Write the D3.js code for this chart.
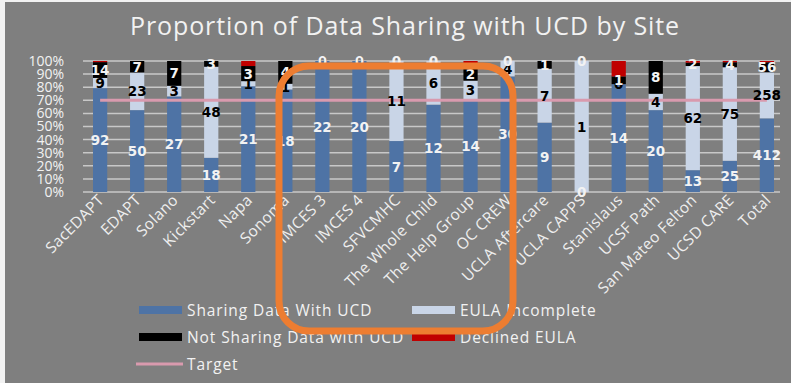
<!DOCTYPE html>
<html>
<head>
<meta charset="utf-8">
<script src="https://cdn.jsdelivr.net/npm/d3@7"></script>
<style>
  html, body { margin: 0; padding: 0; background: #ffffff; }
  svg { display: block; }
  text { font-family: "Open Sans", sans-serif; }
</style>
</head>
<body>
<svg id="chart" width="791" height="383"></svg>
<script>
const categories = ["SacEDAPT","EDAPT","Solano","Kickstart","Napa","Sonoma","IMCES 3","IMCES 4","SFVCMHC","The Whole Child","The Help Group","OC CREW","UCLA Aftercare","UCLA CAPPS","Stanislaus","UCSF Path","San Mateo Felton","UCSD CARE","Total"];
const sharing     = [92,50,27,18,21,18,22,20,7,12,14,30,9,0,14,20,13,25,412];
const eulaIncomplete = [9,23,3,48,1,1,0,0,11,6,3,4,7,1,0,4,62,75,258];
const notSharing  = [14,7,7,3,3,4,0,0,0,0,2,0,1,0,1,8,2,4,56];
const declined    = [1,0,0,0,1,0,0,0,0,0,1,0,0,0,2,0,1,1,7];
const target = 0.70;
const yTicks = [0,0.1,0.2,0.3,0.4,0.5,0.6,0.7,0.8,0.9,1.0];

const seriesNames = ["Sharing Data With UCD","EULA Incomplete","Not Sharing Data with UCD","Declined EULA"];
const seriesColors = ["#4e73a5","#c9d5e7","#000000","#c00000"];
const labelColors = ["#f2f2f2","#000000","#f2f2f2",null];
const seriesData = [sharing, eulaIncomplete, notSharing, declined];

const svg = d3.select("#chart");
const W = 791, H = 383;

// background
svg.append("rect").attr("x",0).attr("y",0).attr("width",W).attr("height",H).attr("fill","#f2f2f2");
svg.append("rect").attr("x",5).attr("y",2).attr("width",W-5).attr("height",H-2).attr("fill","#7f7f7f");

const x = d3.scaleBand().domain(categories).range([83,784]).paddingInner(0.616).paddingOuter(0.27);
const y = d3.scaleLinear().domain([0,1]).range([192,61]);

// title
svg.append("text").attr("x",405).attr("y",35).attr("text-anchor","middle")
  .attr("fill","#f2f2f2").style("font-size","25px").style("letter-spacing","0.9px")
  .text("Proportion of Data Sharing with UCD by Site");

// gridlines
svg.append("g").selectAll("line").data(yTicks).join("line")
  .attr("x1",83).attr("x2",780).attr("y1",d=>y(d)).attr("y2",d=>y(d))
  .attr("stroke","#c8c8c8").attr("stroke-width",1.5);

// y axis labels
const yAxis = d3.axisLeft(y).tickValues(yTicks).tickFormat(d3.format(".0%")).tickSize(0).tickPadding(0);
const gy = svg.append("g").attr("transform","translate(64,0)").call(yAxis);
gy.select(".domain").remove();
gy.selectAll("text").attr("fill","#f2f2f2").style("font-size","14px").style("font-family","'Open Sans', sans-serif");

// stacks
const rows = categories.map((c,i)=>{
  const vals = seriesData.map(s=>s[i]);
  const total = d3.sum(vals);
  let acc = 0;
  return vals.map((v,k)=>{ const y0 = acc/total; acc += v; return {cat:c, k, v, y0, y1: acc/total}; });
});

const gBars = svg.append("g");
rows.forEach(segs=>{
  gBars.selectAll(null).data(segs.filter(s=>s.v>0)).join("rect")
    .attr("x",d=>x(d.cat)).attr("width",x.bandwidth())
    .attr("y",d=>y(d.y1)).attr("height",d=>y(d.y0)-y(d.y1))
    .attr("fill",d=>seriesColors[d.k]);
});

// target line
const tl = d3.line().x(d=>x(d)+x.bandwidth()/2).y(()=>y(target));
svg.append("path").datum(categories).attr("d",tl).attr("fill","none")
  .attr("stroke","#d99aae").attr("stroke-width",3);

// data labels (series 0..2)
const gLab = svg.append("g");
[1,0,2].forEach(k=>{
  rows.forEach(segs=>{
    const d = segs[k];
    gLab.append("text").attr("x",x(d.cat)+x.bandwidth()/2).attr("y",y((d.y0+d.y1)/2))
      .attr("text-anchor","middle").attr("dominant-baseline","central")
      .attr("fill",labelColors[k]).style("font-family","'DejaVu Sans', sans-serif")
      .style("font-weight","bold").style("font-size","13.5px").text(d.v);
  });
});

// category labels
svg.append("g").selectAll("text").data(categories).join("text")
  .attr("transform",d=>`translate(${x(d)+x.bandwidth()/2+5},201) rotate(-45)`)
  .attr("text-anchor","end").attr("fill","#eeeeee").style("font-size","15.5px").style("letter-spacing","0.4px").text(d=>d);

// legend
const legendItems = [
  {k:0, x:139, y:310},{k:1, x:412, y:310},
  {k:2, x:139, y:337},{k:3, x:412, y:337}
];
const gLeg = svg.append("g");
legendItems.forEach(it=>{
  gLeg.append("rect").attr("x",it.x).attr("y",it.y-4).attr("width",43).attr("height",8).attr("fill",seriesColors[it.k]);
  gLeg.append("text").attr("x",it.x+48).attr("y",it.y).attr("dominant-baseline","central")
    .attr("fill","#f2f2f2").style("font-size","15.5px").style("letter-spacing","0.9px").text(seriesNames[it.k]);
});
gLeg.append("line").attr("x1",136).attr("x2",183).attr("y1",364).attr("y2",364).attr("stroke","#d99aae").attr("stroke-width",3);
gLeg.append("text").attr("x",187).attr("y",364).attr("dominant-baseline","central")
  .attr("fill","#f2f2f2").style("font-size","15.5px").style("letter-spacing","0.9px").text("Target");

// orange highlight annotation
svg.append("rect").attr("x",279).attr("y",66).attr("width",234).attr("height",265)
  .attr("rx",30).attr("ry",30).attr("fill","none").attr("stroke","#ed7d31").attr("stroke-width",7);
</script>
</body>
</html>
